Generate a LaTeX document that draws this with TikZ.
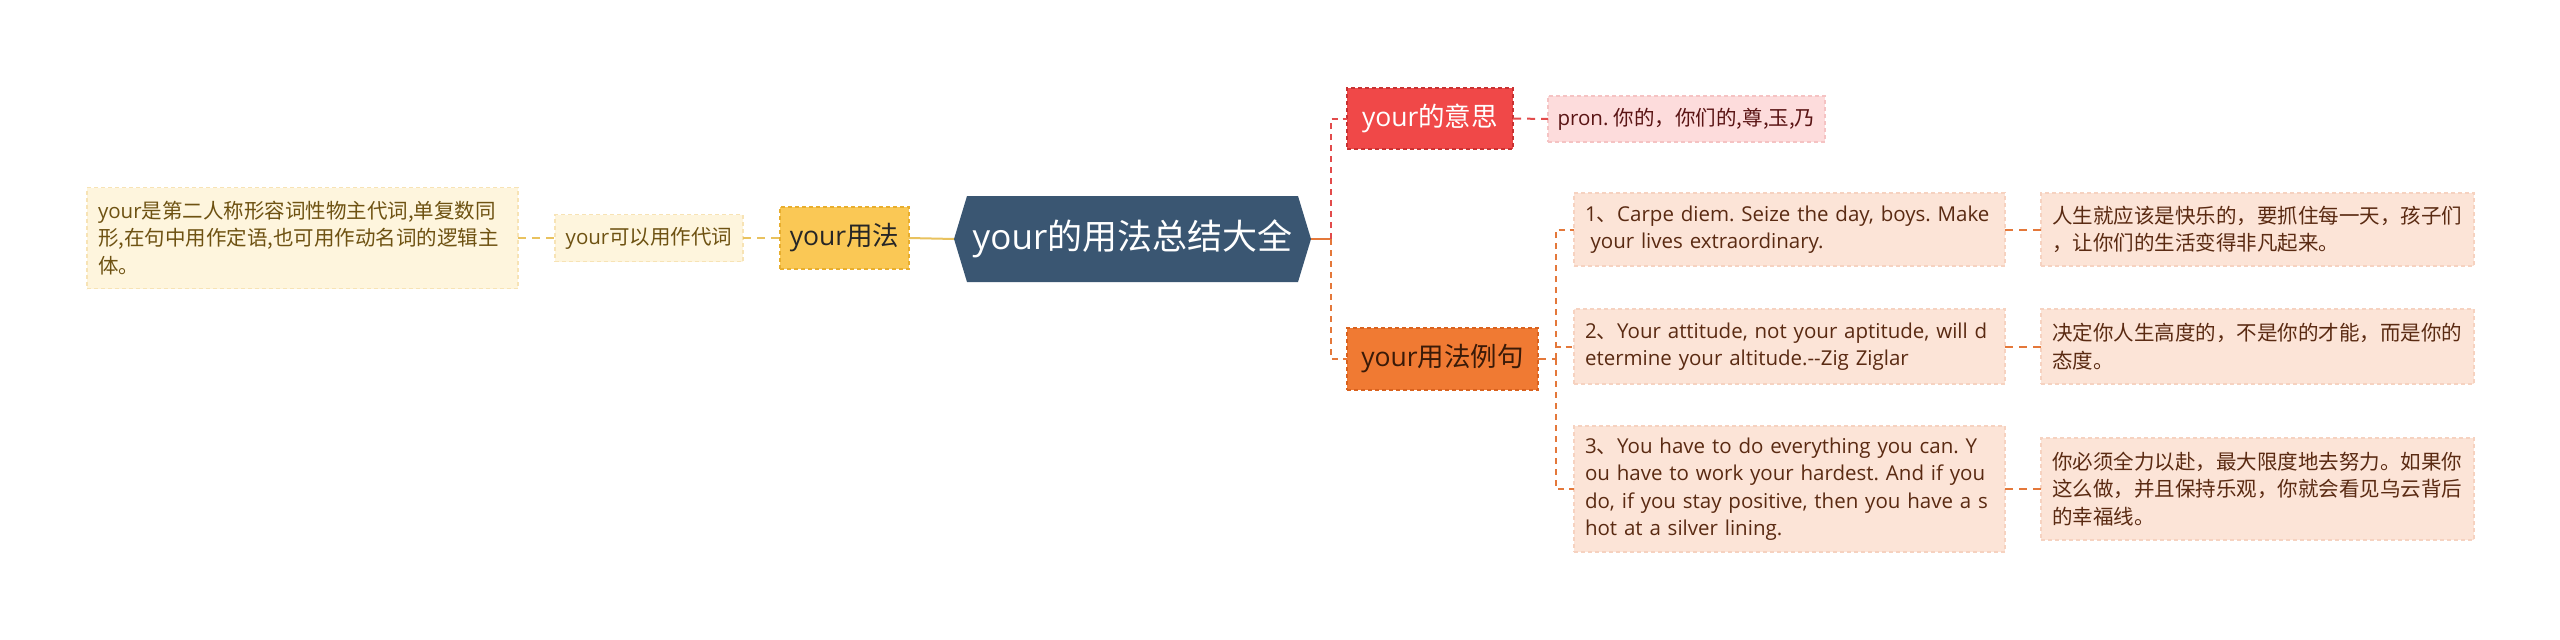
\documentclass[tikz,border=0pt]{standalone}
\usepackage{fontspec}
\setmainfont{Open Sans}
\newfontfamily\cjkfont{Noto Sans CJK SC}
\newcommand{\zh}[1]{{\cjkfont #1}}
\newcommand{\oneline}[1]{\mbox{#1}}
\frenchspacing
\definecolor{rootfill}{HTML}{3A5672}
\definecolor{yelfill}{HTML}{FAC855}
\definecolor{yelborder}{HTML}{E8AE2E}
\definecolor{creamfill}{HTML}{FEF5DD}
\definecolor{creamborder}{HTML}{F7E3B5}
\definecolor{creamtext}{HTML}{6E5212}
\definecolor{redfill}{HTML}{F04848}
\definecolor{redborder}{HTML}{C83232}
\definecolor{pinkfill}{HTML}{FDDCDC}
\definecolor{pinkborder}{HTML}{F5C3C3}
\definecolor{pinktext}{HTML}{5A1414}
\definecolor{orfill}{HTML}{F07A33}
\definecolor{orborder}{HTML}{D9621E}
\definecolor{ortext}{HTML}{3A1A08}
\definecolor{peachfill}{HTML}{FCE4D7}
\definecolor{peachborder}{HTML}{F6D2C0}
\definecolor{peachtext}{HTML}{5A2A12}
\definecolor{yelline}{HTML}{E9C25E}
\definecolor{redline}{HTML}{E24B4B}
\definecolor{orline}{HTML}{E4783A}
\begin{document}
\begin{tikzpicture}[x=1pt,y=-1pt,
  boxbase/.style={inner sep=0pt, outer sep=0pt, line width=1.2pt, dash pattern=on 4pt off 3pt},
  leaffont/.style={font=\fontsize{20.5pt}{27.5pt}\selectfont},
  lvlfont/.style={font=\fontsize{26.5pt}{32pt}\selectfont},
  creambox/.style={boxbase, leaffont, draw=creamborder, fill=creamfill, text=creamtext},
  peachbox/.style={boxbase, leaffont, draw=peachborder, fill=peachfill, text=peachtext},
  multi/.style={align=left, inner xsep=11pt},
  conn/.style={line width=2pt, dash pattern=on 8pt off 6pt},
  vconn/.style={line width=2pt, dash pattern=on 6pt off 5pt}
]
\useasboundingbox (0,0) rectangle (2560,640);
\fill[white] (0,0) rectangle (2560,640);

% root hexagon
\fill[rootfill] (954,239) -- (967,196) -- (1298,196) -- (1311,239) -- (1298,282) -- (967,282) -- cycle;
\node[inner sep=0pt, outer sep=0pt, minimum width=357pt, minimum height=86pt, text=white,
  font=\fontsize{35pt}{40pt}\selectfont] (root) at (1132.5,239) {your\zh{的用法总结大全}};

% left branch
\node[boxbase, lvlfont, draw=yelborder, fill=yelfill, text=black!85, minimum width=129pt, minimum height=62pt] (yongfa) at (844.5,238) {your\zh{用法}};
\node[creambox, minimum width=188pt, minimum height=47pt] (usage) at (649,238) {your\zh{可以用作代词}};
\node[creambox, multi, text width=409pt, minimum height=101pt] (leftbox) at (302.5,238)
  {your\zh{是第二人称形容词性物主代词,单复数同}\\\zh{形,在句中用作定语,也可用作动名词的逻辑主}\\\zh{体。}};

% right branch level 1
\node[boxbase, lvlfont, draw=redborder, fill=redfill, text=white, minimum width=166pt, minimum height=61pt] (meaning) at (1430,118.5) {your\zh{的意思}};
\node[boxbase, leaffont, draw=pinkborder, fill=pinkfill, text=pinktext, minimum width=277pt, minimum height=46pt] (pron) at (1686.5,119) {pron. \zh{你的，你们的,尊,玉,乃}};
\node[boxbase, lvlfont, draw=orborder, fill=orfill, text=ortext, minimum width=191pt, minimum height=62pt] (examples) at (1442.5,359) {your\zh{用法例句}};

% examples
\node[peachbox, multi, text width=409pt, minimum height=73pt] (exa) at (1789.5,229.5)
  {\oneline{1\zh{、}Carpe diem. Seize the day, boys. Make}\\\oneline{\hspace*{0.27em}your lives extraordinary.}};
\node[peachbox, multi, text width=411pt, minimum height=73pt] (zha) at (2257.5,229.5)
  {\zh{人生就应该是快乐的，要抓住每一天，孩子们}\\\zh{，让你们的生活变得非凡起来。}};
\node[peachbox, multi, text width=409pt, minimum height=75pt] (exb) at (1789.5,346.5)
  {\oneline{2\zh{、}Your attitude, not your aptitude, will d}\\\oneline{etermine your altitude.{-}{-}Zig Ziglar}};
\node[peachbox, multi, text width=411pt, minimum height=75pt] (zhb) at (2257.5,346.5)
  {\zh{决定你人生高度的，不是你的才能，而是你的}\\\zh{态度。}};
\node[peachbox, multi, text width=409pt, minimum height=126pt] (exc) at (1789.5,489)
  {\oneline{3\zh{、}You have to do everything you can. Y}\\\oneline{ou have to work your hardest. And if you}\\\oneline{do, if you stay positive, then you have a s}\\\oneline{hot at a silver lining.}};
\node[peachbox, multi, text width=411pt, minimum height=102pt] (zhc) at (2257.5,489)
  {\zh{你必须全力以赴，最大限度地去努力。如果你}\\\zh{这么做，并且保持乐观，你就会看见乌云背后}\\\zh{的幸福线。}};

% connectors left
\draw[conn, yelline] (leftbox.east) -- (usage.west);
\draw[conn, yelline] (usage.east) -- (yongfa.west);
\draw[line width=2pt, yelline] (yongfa.east) -- (root.west);

% connectors right
\coordinate (hub) at (1331,239);
\coordinate (hubb) at (1556,359);
\draw[line width=2pt, orline] (root.east) -- (hub);
\draw[vconn, redline] (hub) |- (meaning.west);
\draw[vconn, orline] (hub) |- (examples.west);
\draw[conn, redline] (meaning.east) -- (pron.west);
\draw[conn, orline] (examples.east) -- (hubb);
\draw[vconn, orline] (hubb) |- (exa.west);
\draw[vconn, orline] (hubb) |- (exb.west);
\draw[vconn, orline] (hubb) |- (exc.west);
\draw[conn, orline] (exa.east) -- (zha.west);
\draw[conn, orline] (exb.east) -- (zhb.west);
\draw[conn, orline] (exc.east) -- (zhc.west);
\end{tikzpicture}
\end{document}
